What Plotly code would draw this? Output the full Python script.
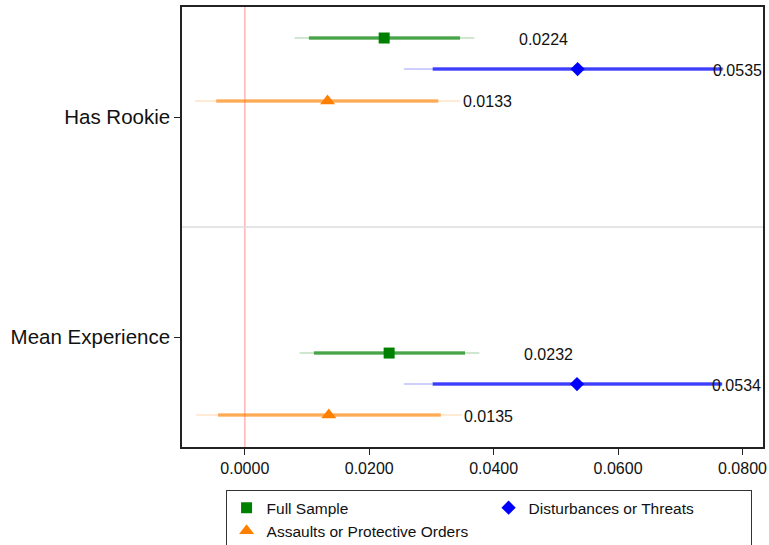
import plotly.graph_objects as go

# ---- data ----
categories = ["Has Rookie", "Mean Experience"]
series_names = ["Full Sample", "Disturbances or Threats", "Assaults or Protective Orders"]

full_coef = [0.0224, 0.0232]
full_lo90 = [0.0103, 0.0111]
full_hi90 = [0.0346, 0.0354]
full_lo95 = [0.0080, 0.0088]
full_hi95 = [0.0369, 0.0377]

dist_coef = [0.0535, 0.0534]
dist_lo90 = [0.0302, 0.0302]
dist_hi90 = [0.0768, 0.0767]
dist_lo95 = [0.0256, 0.0256]
dist_hi95 = [0.0770, 0.0769]

asl_coef = [0.0133, 0.0135]
asl_lo90 = [-0.0046, -0.0043]
asl_hi90 = [0.0311, 0.0315]
asl_lo95 = [-0.0080, -0.0078]
asl_hi95 = [0.0346, 0.0349]

x_tick_vals = [0.0, 0.02, 0.04, 0.06, 0.08]
x_tick_text = ["0.0000", "0.0200", "0.0400", "0.0600", "0.0800"]

# ---- layout helpers (positions / styles) ----
row_offsets = [[-0.359, -0.218, -0.073], [0.073, 0.214, 0.355]]
FONT = "Liberation Sans, Arial, sans-serif"

series = [
    dict(name=series_names[0], coef=full_coef, lo90=full_lo90, hi90=full_hi90,
         lo95=full_lo95, hi95=full_hi95, color="#008000",
         thick="rgba(0,128,0,0.65)", thin="rgba(0,128,0,0.25)",
         symbol="square", size=11),
    dict(name=series_names[1], coef=dist_coef, lo90=dist_lo90, hi90=dist_hi90,
         lo95=dist_lo95, hi95=dist_hi95, color="#0000FF",
         thick="rgba(0,0,255,0.7)", thin="rgba(0,0,255,0.25)",
         symbol="diamond", size=11),
    dict(name=series_names[2], coef=asl_coef, lo90=asl_lo90, hi90=asl_hi90,
         lo95=asl_lo95, hi95=asl_hi95, color="#FF7F00",
         thick="rgba(255,127,0,0.6)", thin="rgba(255,127,0,0.22)",
         symbol="triangle-up", size=13),
]

fig = go.Figure()

# zero reference line
fig.add_vline(x=0, line=dict(color="rgba(255,90,100,0.45)", width=1.5), layer="below")
# panel divider
fig.add_hline(y=1.5, line=dict(color="#DCDCDC", width=1.5), layer="below")

annotations = []
for si, s in enumerate(series):
    ys = [ci + 1 + row_offsets[ci][si] for ci in range(len(categories))]
    x95, y95, x90, y90 = [], [], [], []
    for ci, y in enumerate(ys):
        x95 += [s["lo95"][ci], s["hi95"][ci], None]
        y95 += [y, y, None]
        x90 += [s["lo90"][ci], s["hi90"][ci], None]
        y90 += [y, y, None]
    fig.add_trace(go.Scatter(x=x95, y=y95, mode="lines",
                             line=dict(color=s["thin"], width=1.5),
                             showlegend=False, hoverinfo="skip"))
    fig.add_trace(go.Scatter(x=x90, y=y90, mode="lines",
                             line=dict(color=s["thick"], width=3.5),
                             showlegend=False, hoverinfo="skip"))

for si, s in enumerate(series):
    ys = [ci + 1 + row_offsets[ci][si] for ci in range(len(categories))]
    fig.add_trace(go.Scatter(x=s["coef"], y=ys, mode="markers", name=s["name"],
                             marker=dict(color=s["color"], symbol=s["symbol"],
                                         size=s["size"], line=dict(width=0))))
    for ci, y in enumerate(ys):
        annotations.append(dict(x=s["coef"][ci], y=y, xref="x", yref="y",
                                text=f"{s['coef'][ci]:.4f}", showarrow=False,
                                xanchor="left", yanchor="middle",
                                xshift=133, yshift=-1,
                                font=dict(family=FONT, size=16, color="#111")))

fig.update_layout(
    width=769, height=545,
    margin=dict(l=182, r=6, t=7, b=98, autoexpand=False),
    paper_bgcolor="white", plot_bgcolor="white",
    font=dict(family=FONT, size=16, color="#111"),
    annotations=annotations,
    xaxis=dict(range=[-0.0101, 0.0833], tickvals=x_tick_vals, ticktext=x_tick_text,
               showgrid=False, zeroline=False, showline=True, linecolor="#222",
               linewidth=1.5, mirror=True, ticks="outside", ticklen=6,
               tickcolor="#222", tickwidth=1, automargin=False,
               tickfont=dict(family=FONT, size=16, color="#111")),
    yaxis=dict(range=[2.5, 0.5], tickvals=[1, 2], ticktext=categories,
               showgrid=False, zeroline=False, showline=True, linecolor="#222",
               linewidth=1.5, mirror=True, ticks="outside", ticklen=6,
               tickcolor="#222", tickwidth=1, automargin=False,
               tickfont=dict(family=FONT, size=20.5, color="#111")),
    legend=dict(orientation="h", x=0.075, xanchor="left", y=-0.098, yanchor="top",
                bordercolor="#333", borderwidth=1, bgcolor="white",
                entrywidth=217, itemwidth=30,
                font=dict(family=FONT, size=15.5, color="#111"),
                traceorder="normal"),
    showlegend=True,
)

# remove the default 8px page margin so the 769x545 figure fills the window exactly
page_fix = ("document.documentElement.style.margin='0';"
            "document.body.style.margin='0';"
            "document.documentElement.style.overflow='hidden';"
            "document.body.style.overflow='hidden';")

fig.write_html("out.html", post_script=page_fix, config={"displayModeBar": False})
